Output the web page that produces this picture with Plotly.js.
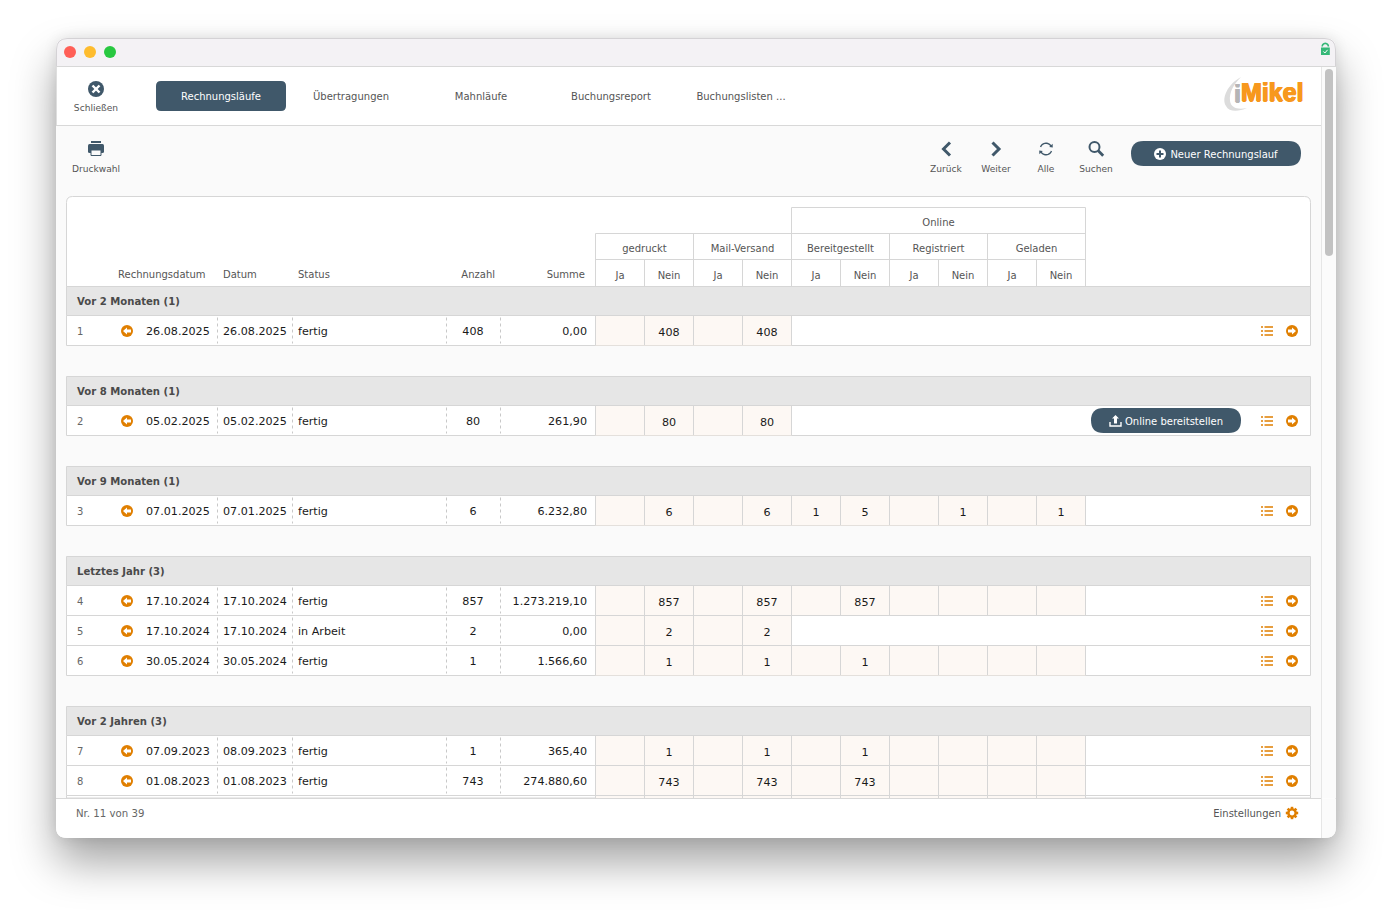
<!DOCTYPE html>
<html><head><meta charset="utf-8">
<script src="https://cdn.plot.ly/plotly-3.0.1.min.js"></script>
<style>
html,body{margin:0;padding:0;background:#fff;width:1392px;height:912px;overflow:hidden}
#win{position:absolute;left:56px;top:38px;width:1280px;height:800px;border-radius:11px;box-shadow:0 24px 44px rgba(0,0,0,.36),0 0 14px rgba(0,0,0,.10)}
#plot{position:absolute;left:0;top:0;width:1392px;height:912px}
</style></head><body><div id="win"></div><div id="plot"></div>
<script>
// ---------- data ----------
const groupLabels = ["Vor 2 Monaten (1)","Vor 8 Monaten (1)","Vor 9 Monaten (1)","Letztes Jahr (3)","Vor 2 Jahren (3)"];
const groupSizes = [1,1,1,3,2];
const rowNumbers = ["1","2","3","4","5","6","7","8"];
const rechnungsdatum = ["26.08.2025","05.02.2025","07.01.2025","17.10.2024","17.10.2024","30.05.2024","07.09.2023","01.08.2023"];
const datum = ["26.08.2025","05.02.2025","07.01.2025","17.10.2024","17.10.2024","30.05.2024","08.09.2023","01.08.2023"];
const status = ["fertig","fertig","fertig","fertig","in Arbeit","fertig","fertig","fertig"];
const anzahl = ["408","80","6","857","2","1","1","743"];
const summe = ["0,00","261,90","6.232,80","1.273.219,10","0,00","1.566,60","365,40","274.880,60"];
const gedrucktNein = ["408","80","6","857","2","1","1","743"];
const mailNein = ["408","80","6","857","2","1","1","743"];
const bereitJa = ["","","1","","","","",""];
const bereitNein = ["","","5","857","","1","1","743"];
const registriertNein = ["","","1","","","","",""];
const geladenNein = ["","","1","","","","",""];
const hasOnlineCells = [false,false,true,true,false,true,true,true];
const hasUploadButton = [false,true,false,false,false,false,false,false];
const tabLabels = ["Rechnungsläufe","Übertragungen","Mahnläufe","Buchungsreport","Buchungslisten ..."];
const navLabels = ["Zurück","Weiter","Alle","Suchen"];
const columnHeaders = ["Rechnungsdatum","Datum","Status","Anzahl","Summe"];
const channelHeaders = ["gedruckt","Mail-Versand","Bereitgestellt","Registriert","Geladen"];
const yesNo = ["Ja","Nein"];

// ---------- styles & geometry ----------
const FONT="'DejaVu Sans',Verdana,sans-serif";
const DARK="#40586a", ORANGE="#e07f00", LINE="#d6d6d6", CREAM="#fdf8f4", GREY="#e6e6e6", BG="#fafafa", TXT="#555", INK="#1a1a1a";
const shapes=[]; const labels=[];
const rect=(x0,y0,x1,y1,fill,line)=>shapes.push({type:'rect',layer:'below',x0,y0,x1,y1,fillcolor:fill||'rgba(0,0,0,0)',line:{width:line?1:0,color:line||'rgba(0,0,0,0)'}});
const seg=(x0,y0,x1,y1,color,w,dash)=>shapes.push({type:'line',layer:'below',x0,y0,x1,y1,line:{color:color||LINE,width:w||1,dash:dash||'solid'}});
const path=(d,fill,line,w)=>shapes.push({type:'path',layer:'below',path:d,fillcolor:fill||'rgba(0,0,0,0)',line:{width:line?(w||1):0,color:line||'rgba(0,0,0,0)'}});
const circ=(cx,cy,r,fill,line,w)=>shapes.push({type:'circle',layer:'below',x0:cx-r,x1:cx+r,y0:cy-r,y1:cy+r,fillcolor:fill||'rgba(0,0,0,0)',line:{width:line?(w||1):0,color:line||'rgba(0,0,0,0)'}});
const rr=(x0,y0,x1,y1,r)=>`M${x0+r},${y0} L${x1-r},${y0} Q${x1},${y0} ${x1},${y0+r} L${x1},${y1-r} Q${x1},${y1} ${x1-r},${y1} L${x0+r},${y1} Q${x0},${y1} ${x0},${y1-r} L${x0},${y0+r} Q${x0},${y0} ${x0+r},${y0} Z`;
const arc=(cx,cy,r,a0,a1)=>{let s='';for(let i=0;i<=14;i++){const a=(a0+(a1-a0)*i/14)*Math.PI/180;s+=(i?'L':'M')+(cx+r*Math.cos(a)).toFixed(2)+','+(cy+r*Math.sin(a)).toFixed(2)+' ';}return s;};
const label=(x,y,text,pos,size,color,bold)=>labels.push({x,y:y+2,text,pos,size,color,bold:!!bold});

// ---------- window chrome ----------
const WL=56,WR=1336,WT=38,WB=838;
path(rr(WL,WT,WR,WB,11),'#ffffff');
path(`M${WL},66 L${WL},49 Q${WL},${WT} ${WL+11},${WT} L${WR-11},${WT} Q${WR},${WT} ${WR},49 L${WR},66 Z`,'#f4f2f5');
path(rr(WL+.5,WT+.5,WR-.5,WB-.5,11),null,'rgba(0,0,0,0.13)',1);
seg(WL,66.5,WR,66.5,'#d8d8d8');
[['#ff5f57',70],['#febc2e',90],['#28c840',110]].forEach(([c,x])=>circ(x,52,6,c));
// lock
path(arc(1325.3,46.5,3.1,180,360),null,'#35b878',1.6);
rect(1321,47.5,1329.8,55,'#35b878');
path('M1323.3,51.4 L1324.9,53 L1327.6,49.8',null,'#ffffff',1);

// toolbar & content background
rect(WL,126,1321,798,BG);
rect(1321,67,WR,798,'#fbfbfb');
seg(1321.5,67,1321.5,798,'#e6e6e6');
path(rr(1325,69,1333,256,4),'#c2c2c2');
seg(WL,125.5,1321,125.5,'#d8d8d8');

// tabs
const tabCenters=[221,351,481,611,741];
path(rr(156,81,286,111,5),DARK);
tabLabels.forEach((t,i)=>label(tabCenters[i],95.5,t,'middle center',10,i?TXT:'#ffffff'));

// close
circ(96,89,8,DARK);
seg(92.5,85.5,99.5,92.5,'#fff',2.4); seg(99.5,85.5,92.5,92.5,'#fff',2.4);
label(96,106.8,'Schließen','middle center',9.1,TXT);
// print
rect(91,141,101,143,DARK);
path(rr(88,144,104,153,1.5),DARK);
rect(91,150,101,155.5,'#fafafa',DARK);
label(96,168,'Druckwahl','middle center',9.1,TXT);

// logo
path('M1241,77 C1228,84 1221,98 1226,106 C1229,112 1238,112 1247,108 C1238,110 1231,108 1230,101 C1229,92 1234,84 1241,77 Z','#dcdcdc');
label(1241,93,'Mikel','middle right',25,'#f7981d',true);
label(1237.5,94,'i','middle center',24,'#b5b5b5',true);

// nav icons
path('M950,142.5 L943.5,149 L950,155.5',null,DARK,3);
path('M992.5,142.5 L999,149 L992.5,155.5',null,DARK,3);
path(arc(1046,149,5.8,200,335),null,DARK,1.4);
path(arc(1046,149,5.8,20,155),null,DARK,1.4);
path('M1052.8,147.5 L1049.2,147 L1052.6,143.8 Z',DARK);
path('M1039.2,150.5 L1042.8,151 L1039.4,154.2 Z',DARK);
circ(1094.5,147,5,null,DARK,2);
seg(1098.3,150.8,1103.2,155.8,DARK,2.8);
[946,996,1046,1096].forEach((x,i)=>label(x,168,navLabels[i],'middle center',9.1,TXT));

// new button
path(rr(1131,141,1301,166,12.5),DARK);
circ(1160,154,6,'#fff');
rect(1159,150.5,1161,157.5,DARK); rect(1156.5,153,1163.5,155,DARK);
label(1224,153.5,'Neuer Rechnungslauf','middle center',10,'#ffffff');

// ---------- table ----------
const TL=66.5,TR=1310.5;
const vx=[595.5,644.5,693.5,742.5,791.5,840.5,889.5,938.5,987.5,1036.5,1085.5];
path(`M${TL},286.5 L${TL},202.5 Q${TL},196.5 ${TL+6},196.5 L${TR-6},196.5 Q${TR},196.5 ${TR},202.5 L${TR},286.5 Z`,'#ffffff',LINE);
// header grid
seg(vx[4],207.5,vx[10],207.5);
seg(vx[4],233.5,vx[10],233.5); seg(vx[0],233.5,vx[4],233.5);
seg(vx[0],259.5,vx[10],259.5);
vx.forEach((x,i)=>{const top=(i==4||i==10)?207.5:(i%2==0?233.5:259.5);seg(x,top,x,286.5);});
label(938.5,221.5,'Online','middle center',10,TXT);
channelHeaders.forEach((t,i)=>label((vx[i*2]+vx[i*2+2])/2,247.5,t,'middle center',10,TXT));
for(let i=0;i<10;i++) label((vx[i]+vx[i+1])/2,274.5,yesNo[i%2],'middle center',10,TXT);
[[118,'middle right'],[223,'middle right'],[298,'middle right'],[495,'middle left'],[585,'middle left']].forEach(([x,p],i)=>label(x,273.5,columnHeaders[i],p,10,TXT));

// groups & rows
const rowTops=[]; const groupTops=[];
{let g=286.5; groupSizes.forEach(n=>{groupTops.push(g);let t=g+29;for(let k=0;k<n;k++){rowTops.push(t);t+=30;}g=t+31;});}
groupLabels.forEach((t,i)=>{
  rect(TL,groupTops[i],TR,groupTops[i]+29,GREY,LINE);
  label(77,groupTops[i]+14,t,'middle right',10.1,'#4a4a4a',true);
});
let listPath='',lArrow='',rArrow='';
rowTops.forEach((t,i)=>{
  rect(TL,t,TR,t+30,'#ffffff',LINE);
  const lastOn=hasOnlineCells[i]?10:4;
  rect(vx[0],t+.5,vx[lastOn],t+29.5,CREAM);
  for(let k=0;k<=lastOn;k++) seg(vx[k],t,vx[k],t+30);
  seg(vx[0],t+30,vx[lastOn],t+30,'#e4e0dc');
  [217.5,292.5,446.5,500.5].forEach(x=>seg(x,t+2,x,t+28,'#c8c8c8',1,'3px,3px'));
  const cy=t+15.5;
  circ(127,cy,6,ORANGE);
  lArrow+=`M123,${cy} L127,${cy-3.5} L127,${cy-1.4} L131,${cy-1.4} L131,${cy+1.4} L127,${cy+1.4} L127,${cy+3.5} Z `;
  circ(1292,cy,6,ORANGE);
  rArrow+=`M1296,${cy} L1292,${cy-3.5} L1292,${cy-1.4} L1288,${cy-1.4} L1288,${cy+1.4} L1292,${cy+1.4} L1292,${cy+3.5} Z `;
  [-4,0,4].forEach(d=>{const a=cy+d-.7,b=cy+d+.7;
    listPath+=`M1261,${a} L1263,${a} L1263,${b} L1261,${b} Z M1264.5,${a} L1273,${a} L1273,${b} L1264.5,${b} Z `;});
  if(hasUploadButton[i]){
    path(rr(1091,t+2.5,1241,t+27.5,12.5),DARK);
    path(`M1110,${cy+1} L1110,${cy+5} L1121,${cy+5} L1121,${cy+1}`,null,'#fff',1.4);
    path(`M1115.5,${cy-6} L1119,${cy-2.5} L1117,${cy-2.5} L1117,${cy+2.5} L1114,${cy+2.5} L1114,${cy-2.5} L1112,${cy-2.5} Z`,'#fff');
    label(1174,t+15,'Online bereitstellen','middle center',10,'#ffffff');
  }
  const ty=t+15, cty=t+16;
  label(77,ty,rowNumbers[i],'middle right',10,'#666');
  label(146,ty,rechnungsdatum[i],'middle right',11.15,INK);
  label(223,ty,datum[i],'middle right',11.15,INK);
  label(298,ty,status[i],'middle right',11.15,INK);
  label(473,ty,anzahl[i],'middle center',11.15,INK);
  label(587,ty,summe[i],'middle left',11.15,INK);
  [[669,gedrucktNein],[767,mailNein],[816,bereitJa],[865,bereitNein],[963,registriertNein],[1061,geladenNein]]
    .forEach(([x,arr])=>{if(arr[i]) label(x,cty,arr[i],'middle center',11.15,INK);});
});
path(lArrow,'#fff'); path(rArrow,'#fff'); path(listPath,ORANGE);

// sliver of the next, cut-off row
{const t=rowTops[rowTops.length-1]+30;
 rect(TL,t,TR,798,'#ffffff',LINE);
 rect(vx[0],t+.5,vx[10],798,CREAM);
 vx.forEach(x=>seg(x,t,x,798));}

// footer
path(`M${WL},798.5 L${WR-15},798.5 L${WR-15},838 L${WL+11},838 Q${WL},838 ${WL},827 Z`,'#ffffff');
seg(WL,798.5,1321,798.5,'#d8d8d8');
path(`M1321,798.5 L${WR},798.5 L${WR},827 Q${WR},838 ${WR-11},838 L1321,838 Z`,'#fbfbfb');
seg(1321.5,798,1321.5,838,'#e6e6e6');
label(76,812.5,'Nr. 11 von 39','middle right',10.2,'#666');
label(1281,812.5,'Einstellungen','middle left',10,TXT);
for(let a=0;a<360;a+=45){const r=a*Math.PI/180;seg(1292+3.5*Math.cos(r),813+3.5*Math.sin(r),1292+6.2*Math.cos(r),813+6.2*Math.sin(r),ORANGE,2.6);}
circ(1292,813,3.6,'#fff',ORANGE,2.4);

// ---------- text traces, one per style, through the plot's own axes ----------
const byStyle={};
labels.forEach(l=>{const k=[l.pos,l.size,l.color,l.bold].join('|');(byStyle[k]=byStyle[k]||[]).push(l);});
const traces=Object.values(byStyle).map(g=>({
  type:'scatter',mode:'text',x:g.map(l=>l.x),y:g.map(l=>l.y),text:g.map(l=>l.text),
  textposition:g[0].pos,hoverinfo:'skip',showlegend:false,
  textfont:{family:FONT,size:g[0].size,color:g[0].color,weight:g[0].bold?'bold':'normal'}
}));
// Logo text uses a heavier sans
traces.forEach(t=>{if(t.textfont.size>=24){
  t.textfont.family="'Liberation Sans',Arial,sans-serif";
  const c=t.textfont.color; t.textfont.shadow=`0.7px 0 0 ${c},-0.7px 0 0 ${c},0 0.5px 0 ${c},0 -0.5px 0 ${c}`;
}});

Plotly.newPlot('plot',traces,{
  width:1392,height:912,margin:{l:0,r:0,t:0,b:0,pad:0},
  paper_bgcolor:'rgba(0,0,0,0)',plot_bgcolor:'rgba(0,0,0,0)',showlegend:false,
  xaxis:{range:[0,1392],visible:false,fixedrange:true},
  yaxis:{range:[912,0],visible:false,fixedrange:true},
  shapes
},{displayModeBar:false,staticPlot:true});
</script></body></html>
